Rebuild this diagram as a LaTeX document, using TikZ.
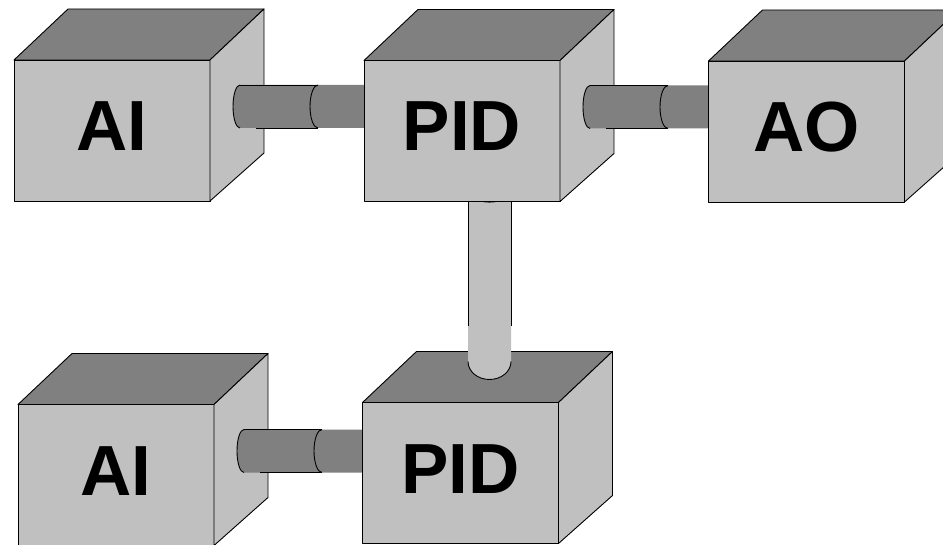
\documentclass[tikz,border=0pt]{standalone}
\usepackage{fontspec}
\setmainfont{Liberation Sans}
\usetikzlibrary{calc}

\definecolor{facegray}{RGB}{192,192,192}
\definecolor{topgray}{RGB}{128,128,128}

\tikzset{
  cubefront/.style={rectangle, minimum width=196pt, minimum height=141pt,
                    inner sep=0pt, outer sep=0pt},
  edgeline/.style={draw=black, line width=0.9pt, line join=round},
  lightface/.style={edgeline, fill=facegray},
  darkface/.style={edgeline, fill=topgray},
  tag/.style={anchor=base, inner sep=0pt, font=\fontsize{71}{80}\selectfont\bfseries},
  pipebody/.style={fill=topgray},
  stembody/.style={fill=facegray},
}

% faces and label of a cube whose front face is the node #1
\newcommand\drawcube[2]{%
  \path[lightface] (#1.south west) rectangle (#1.north east);
  \path[darkface] (#1.north west) -- ($(#1.north west)+(54,-51)$)
      -- ($(#1.north east)+(54,-51)$) -- (#1.north east) -- cycle;
  \path[lightface] (#1.north east) -- ($(#1.north east)+(54,-51)$)
      -- ($(#1.south east)+(54,-48)$) -- (#1.south east) -- cycle;
  \node[tag] (#1-tag) at ($(#1.center)+(0,20)$) {#2};
}

% horizontal pipe from the side of cube #1 into the front of cube #2
\newcommand\linkpipe[3]{%
  \coordinate (#3-top) at ($(#1.north east)+(30,25)$);
  \coordinate (#3-bot) at ($(#3-top)+(0,43)$);
  \coordinate (#3-jt) at ($(#3-top)+(78,0)$);
  \coordinate (#3-jb) at ($(#3-bot)+(78,0)$);
  \path[pipebody] (#3-top) arc[start angle=90, end angle=270, x radius=7pt, y radius=21.5pt]
      -- (#2.west |- #3-bot) -- (#2.west |- #3-top) -- cycle;
  \draw[edgeline] (#3-top) arc[start angle=90, end angle=270, x radius=7pt, y radius=21.5pt];
  \draw[edgeline] (#3-top) -- (#3-jt);
  \draw[edgeline] ($(#3-bot)+(16,0)$) -- (#3-jb);
  \draw[edgeline] (#3-jt) arc[start angle=90, end angle=270, x radius=8pt, y radius=21.5pt];
}

\begin{document}
\begin{tikzpicture}[x=1pt, y=-1pt]
  \clip (0,0) rectangle (943,545);
  \useasboundingbox (0,0) rectangle (943,545);

  % front faces of the five blocks
  \path node[cubefront] (ai1) at (112,130.5) {}
        node[cubefront] (pid1) at (462,131) {}
        node[cubefront] (ao) at (806.5,131.5) {}
        node[cubefront] (ai2) at (116,475) {}
        node[cubefront] (pid2) at (460.5,473) {};

  % lower row
  \drawcube{ai2}{AI}
  \linkpipe{ai2}{pid2}{p3}
  \drawcube{pid2}{PID}

  % vertical stem between the two PID blocks
  \coordinate (v-top) at ($(pid1.south)+(6,-11)$);
  \coordinate (v-foot) at (v-top |- pid2.north);
  \coordinate (v-end) at ($(v-foot)+(0,-41)$);
  \coordinate (v-right) at ($(v-top)+(43,0)$);
  \path[stembody] (v-top) -- (v-end)
      arc[start angle=180, end angle=360, x radius=21.5pt, y radius=18pt]
      -- (v-right) -- cycle;
  \draw[edgeline] (v-top) arc[start angle=180, end angle=360, x radius=21.5pt, y radius=11.6pt];
  \draw[edgeline] ($(v-top)+(0,11)$) -- ($(v-end)+(0,-35)$);
  \draw[edgeline] ($(v-right)+(0,11)$) -- ($(v-end)+(43,-35)$);
  \draw[edgeline] (v-end) arc[start angle=180, end angle=360, x radius=21.5pt, y radius=18pt];

  % upper row
  \drawcube{ai1}{AI}
  \linkpipe{ai1}{pid1}{p1}
  \drawcube{pid1}{PID}
  \linkpipe{pid1}{ao}{p2}
  \drawcube{ao}{AO}
\end{tikzpicture}
\end{document}
